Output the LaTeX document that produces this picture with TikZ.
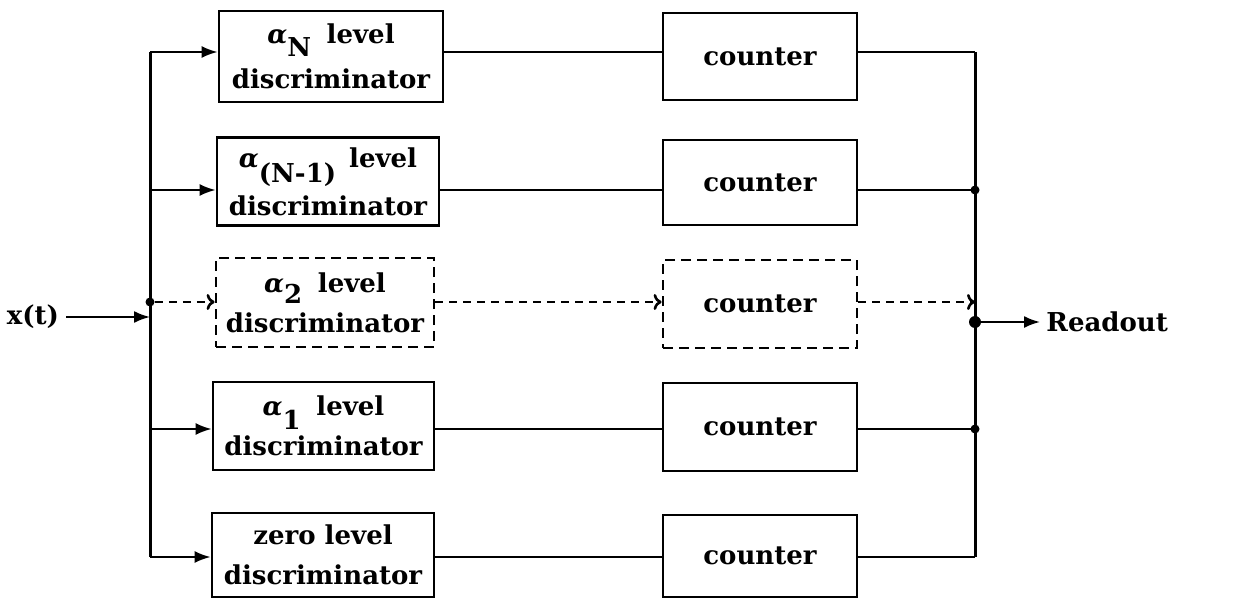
\documentclass[tikz,border=0pt]{standalone}
\usepackage{fontspec}
\setmainfont{DejaVu Serif}
\usetikzlibrary{arrows.meta}

\newcommand{\lowsub}[2][-0.6em]{\raisebox{#1}[0pt][0pt]{#2}}
\newcommand{\alf}{{\itshape α}}

\begin{document}
\begin{tikzpicture}[x=0.5pt,y=-0.5pt,
  font=\bfseries\fontsize{13}{20}\selectfont,
  blk/.style={draw, line width=1.4pt, inner sep=0pt, align=center},
  dblk/.style={blk, dash pattern=on 5pt off 3pt},
  wire/.style={line width=1pt},
  bus/.style={line width=1.5pt},
  arr/.style={wire, -{Latex[length=8pt,width=6pt]}},
  darr/.style={wire, dash pattern=on 4pt off 3pt, -{To[length=4pt,width=8pt,line width=1.3pt]}},
  dot/.style={circle, fill, inner sep=0pt, minimum size=4.5pt},
  bigdot/.style={circle, fill, inner sep=0pt, minimum size=6pt}]

\useasboundingbox (0,0) rectangle (1240,599);

% discriminators
\node[blk, minimum width=112pt, minimum height=45.5pt] (d1) at (331,56.5)
  {\alf\lowsub[-0.5em]{N}\hspace{0.6em}level\\[2.5pt]discriminator};
\node[blk, minimum width=111pt, minimum height=44pt] (d2) at (328,181.5)
  {\alf\lowsub{(N-1)}\hspace{0.5em}level\\[4pt]discriminator};
\node[dblk, minimum width=109pt, minimum height=44.5pt] (d3) at (325,302.5)
  {\alf\lowsub[-0.45em]{2}\hspace{0.6em}level\\discriminator};
\node[blk, minimum width=110.5pt, minimum height=44pt] (d4) at (323.5,426)
  {\alf\lowsub[-0.55em]{1}\hspace{0.6em}level\\discriminator};
\node[blk, minimum width=111pt, minimum height=42pt] (d5) at (323,555)
  {zero level\\discriminator};

% counters
\node[blk, minimum width=97pt, minimum height=43.5pt] (c1) at (760,56.5) {counter};
\node[blk, minimum width=97pt, minimum height=42.5pt] (c2) at (760,182.5) {counter};
\node[dblk, minimum width=97pt, minimum height=44pt] (c3) at (760,304) {counter};
\node[blk, minimum width=97pt, minimum height=44pt] (c4) at (760,427) {counter};
\node[blk, minimum width=97pt, minimum height=41pt] (c5) at (760,556) {counter};

% input and output labels
\node (xin) at (33,317) {x(t)};
\node[anchor=west, inner sep=3pt] (ro) at (1040,322) {Readout};

% left distribution bus
\coordinate (L1) at (150,52);
\coordinate (L2) at (150,190);
\coordinate (L3) at (150,302);
\coordinate (Lx) at (150,317);
\coordinate (L4) at (150,429);
\coordinate (L5) at (150,557);
\draw[bus] (L1) -- (L5);
\draw[arr] (xin.east) -- (Lx);
\node[dot] (ld) at (L3) {};
\draw[arr] (L1) -- (L1 -| d1.west);
\draw[arr] (L2) -- (L2 -| d2.west);
\draw[darr] (ld) -- (L3 -| d3.west);
\draw[arr] (L4) -- (L4 -| d4.west);
\draw[arr] (L5) -- (L5 -| d5.west);

% discriminator to counter
\draw[wire] (L1 -| d1.east) -- (L1 -| c1.west);
\draw[wire] (L2 -| d2.east) -- (L2 -| c2.west);
\draw[darr] (L3 -| d3.east) -- (L3 -| c3.west);
\draw[wire] (L4 -| d4.east) -- (L4 -| c4.west);
\draw[wire] (L5 -| d5.east) -- (L5 -| c5.west);

% right collecting bus
\coordinate (R1) at (975,52);
\coordinate (R2) at (975,190);
\coordinate (R3) at (975,302);
\coordinate (Rj) at (975,322);
\coordinate (R4) at (975,429);
\coordinate (R5) at (975,557);
\draw[bus] (R1) -- (R5);
\draw[wire] (R1 -| c1.east) -- (R1);
\draw[wire] (R2 -| c2.east) -- (R2);
\draw[darr] (R3 -| c3.east) -- (R3);
\draw[wire] (R4 -| c4.east) -- (R4);
\draw[wire] (R5 -| c5.east) -- (R5);
\node[dot] at (R2) {};
\node[dot] at (R4) {};
\node[bigdot] (rd) at (Rj) {};
\draw[arr] (rd) -- (ro.west);

\end{tikzpicture}
\end{document}
